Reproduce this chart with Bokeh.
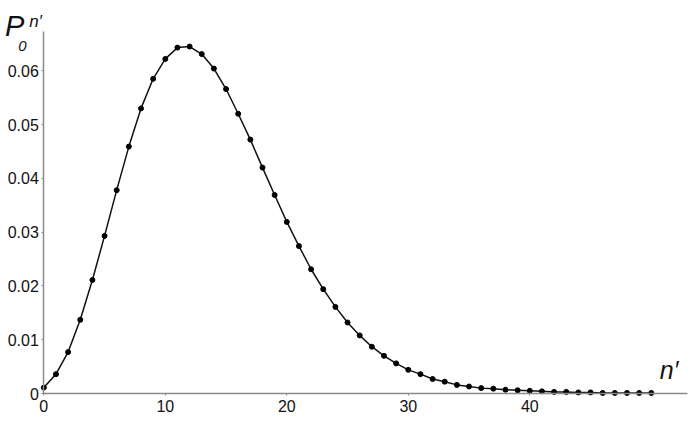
from bokeh.plotting import figure
from bokeh.models import Range1d, FixedTicker, Label, ColumnDataSource
from bokeh.embed import file_html
from bokeh.resources import INLINE

# ---- data ----
n_values = list(range(0, 51))
p_values = [0.0011, 0.0036, 0.0077, 0.0137, 0.0211, 0.0293, 0.0378, 0.0459, 0.0530, 0.0585,
            0.0622, 0.0643, 0.0645, 0.0631, 0.0604, 0.0566, 0.0520, 0.0472, 0.0420, 0.0369,
            0.0319, 0.0274, 0.0231, 0.0194, 0.0161, 0.0132, 0.0108, 0.0087, 0.0070, 0.0056,
            0.0044, 0.0036, 0.0027, 0.0022, 0.0016, 0.0013, 0.0010, 0.0009, 0.0007, 0.0006,
            0.0005, 0.0004, 0.0003, 0.0003, 0.0002, 0.0002, 0.0001, 0.0001, 0.0001, 0.0001,
            0.0001]
x_ticks = [0, 10, 20, 30, 40]
y_ticks = [0, 0.01, 0.02, 0.03, 0.04, 0.05, 0.06]
y_tick_labels = {0: "0", 0.01: "0.01", 0.02: "0.02", 0.03: "0.03",
                 0.04: "0.04", 0.05: "0.05", 0.06: "0.06"}
x_axis_end = 52.98
y_axis_end = 0.0673

src = ColumnDataSource(dict(n=n_values, p=p_values))

W, H = 690, 427
p = figure(width=W, height=H, output_backend="svg", toolbar_location=None,
           x_range=Range1d(-3.564, 53.227), y_range=Range1d(-0.00632, 0.07306),
           min_border_left=0, min_border_right=0, min_border_top=0, min_border_bottom=0)
p.outline_line_color = None
p.xgrid.visible = False
p.ygrid.visible = False
p.background_fill_color = "white"
p.border_fill_color = "white"

p.line("n", "p", source=src, line_color="#111111", line_width=1.5)
p.scatter("n", "p", source=src, size=5, color="#000000")

for ax in (p.xaxis[0], p.yaxis[0]):
    ax.fixed_location = 0
    ax.axis_line_color = "#8a8a8a"
    ax.axis_line_width = 1.5
    ax.major_tick_line_color = "#8a8a8a"
    ax.major_tick_line_width = 1
    ax.major_tick_in = 0
    ax.major_tick_out = 2
    ax.minor_tick_line_color = None
    ax.major_label_text_font = "Liberation Sans"
    ax.major_label_text_font_size = "16px"
    ax.major_label_text_color = "#111111"

p.xaxis[0].ticker = FixedTicker(ticks=x_ticks)
p.xaxis[0].bounds = (0, x_axis_end)
p.xaxis[0].major_label_standoff = 4
p.yaxis[0].ticker = FixedTicker(ticks=y_ticks)
p.yaxis[0].bounds = (0, y_axis_end)
p.yaxis[0].major_label_overrides = y_tick_labels
p.yaxis[0].major_label_standoff = 3

# axis titles
p.add_layout(Label(x=-3.2, y=0.06823, text="P", text_font="Liberation Sans",
                   text_font_style="italic", text_font_size="29px", text_color="#111111",
                   text_baseline="alphabetic"))
p.add_layout(Label(x=-2.1, y=0.06451, text="0", text_font="Liberation Sans",
                   text_font_style="italic", text_font_size="15px", text_color="#111111",
                   text_baseline="alphabetic"))
p.add_layout(Label(x=-1.2, y=0.0692, text="n\u2032", text_font="Liberation Sans",
                   text_font_style="italic", text_font_size="17px", text_color="#111111",
                   text_baseline="alphabetic"))
p.add_layout(Label(x=50.7, y=0.00428, text="n\u2032", text_font="Liberation Sans",
                   text_font_style="italic", text_font_size="25px", text_color="#111111",
                   text_baseline="alphabetic"))

open("out.html", "w").write(file_html(p, INLINE))
